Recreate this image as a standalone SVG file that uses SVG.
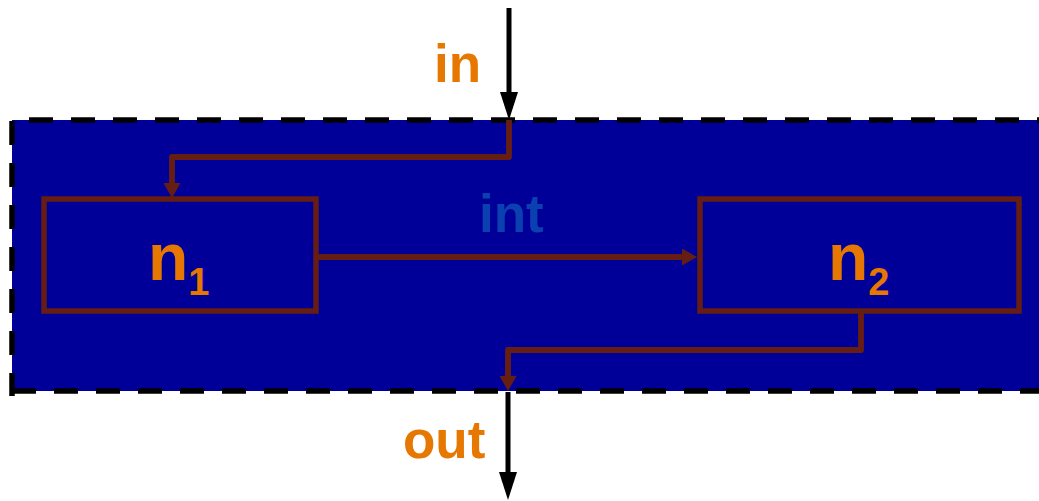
<svg xmlns="http://www.w3.org/2000/svg" width="1039" height="501" viewBox="0 0 1039 501">
<style>
.lbl{font-family:"Liberation Sans",Arial,sans-serif;font-weight:bold;font-size:53px}
.orange{fill:#E67700}
.node{fill:none;stroke:#661E12;stroke-width:5.5}
.wire{fill:none;stroke:#661E12;stroke-width:5.8;stroke-linejoin:round}
.ext{fill:none;stroke:#000;stroke-width:5}
.dash{stroke:#000;stroke-width:5.5;stroke-dasharray:24 18}
.nlbl{font-family:"Liberation Sans",Arial,sans-serif;font-weight:bold;font-size:66px;fill:#E67700}
</style>
<defs>
<marker id="bh" markerUnits="userSpaceOnUse" markerWidth="15" markerHeight="17" refX="7" refY="8.5" orient="auto"><path d="M0,0 L15,8.5 L0,17 z" fill="#661E12"/></marker>
<marker id="kh" markerUnits="userSpaceOnUse" markerWidth="28" markerHeight="18" refX="18" refY="9" orient="auto"><path d="M0,0 L28,9 L0,18 z" fill="#000"/></marker>
</defs>
<g id="container">
<rect x="12" y="120" width="1040" height="271" fill="#000099"/>
<line class="dash" x1="29" y1="120" x2="1039" y2="120"/>
<line class="dash" x1="12" y1="391" x2="1039" y2="391"/>
<line class="dash" x1="12" y1="121" x2="12" y2="396"/>
</g>
<g id="connectors">
<line class="ext" x1="509" y1="8" x2="509" y2="110" marker-end="url(#kh)"/>
<line class="ext" x1="508" y1="392" x2="508" y2="490" marker-end="url(#kh)"/>
<polyline class="wire" points="509,120 509,157 172,157 172,190" marker-end="url(#bh)"/>
<line class="wire" x1="317" y1="257" x2="689" y2="257" marker-end="url(#bh)"/>
<polyline class="wire" points="861,311 861,350 508,350 508,383" marker-end="url(#bh)"/>
<text class="lbl orange" x="434" y="82">in</text>
<text class="lbl" x="479" y="232" fill="#0B40B0">int</text>
<text class="lbl orange" x="403" y="458">out</text>
</g>
<g id="n1">
<rect class="node" x="44" y="199" width="272" height="112"/>
<text class="nlbl" x="148" y="280">n<tspan font-size="38" dy="15">1</tspan></text>
</g>
<g id="n2">
<rect class="node" x="700" y="199" width="319" height="112"/>
<text class="nlbl" x="828" y="280">n<tspan font-size="38" dy="15">2</tspan></text>
</g>
</svg>
